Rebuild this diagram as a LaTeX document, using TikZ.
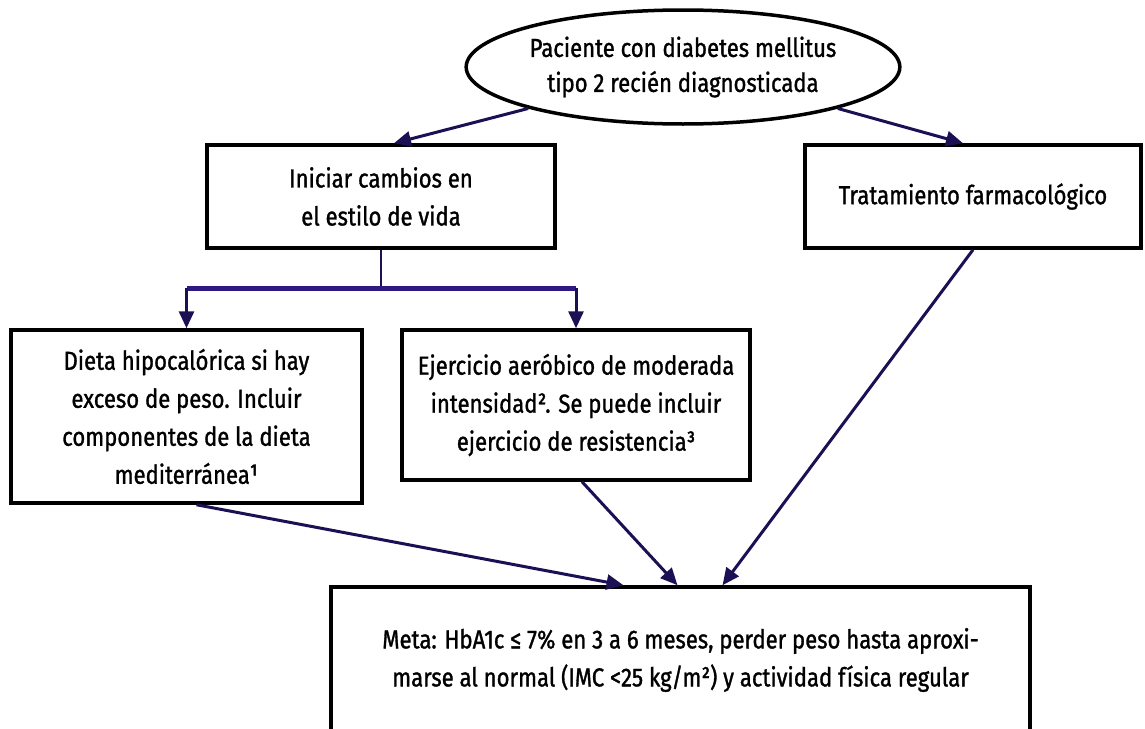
\documentclass[tikz,border=0pt]{standalone}
\usepackage{fontspec}
\setmainfont{Fira Sans}[FakeStretch=0.85,FakeBold=1.2]
\usetikzlibrary{arrows.meta,shapes.geometric,calc}
\definecolor{arrowcol}{RGB}{28,16,85}
\definecolor{barcol}{RGB}{48,24,130}
\begin{document}
\begin{tikzpicture}[x=1pt,y=-1pt,
  box/.style={draw=black, line width=3.5pt, fill=white, align=center, inner sep=0pt,
    font=\fontsize{26}{38}\selectfont},
  ell/.style={draw=black, line width=3.5pt, fill=white, ellipse, align=center, inner sep=0pt,
    font=\fontsize{26}{35}\selectfont},
  arr/.style={draw=arrowcol, line width=3pt, -{Triangle[length=17pt,width=15pt]}},
  thinline/.style={draw=arrowcol, line width=2pt},
  barline/.style={draw=barcol, line width=5pt}]
\clip (0,0) rectangle (1145,728);
\fill[white] (0,0) rectangle (1145,728);

\node[ell, minimum width=374pt, minimum height=114pt] (p) at (683,67)
  {Paciente con diabetes mellitus\\tipo 2 recién diagnosticada};
\node[box, minimum width=348pt, minimum height=103pt] (b1) at (381,196.5)
  {Iniciar cambios en\\el estilo de vida};
\node[box, minimum width=336pt, minimum height=103pt] (b2) at (973,196.5)
  {Tratamiento farmacológico};
\node[box, minimum width=351pt, minimum height=173pt] (b3) at (186.5,416.5)
  {Dieta hipocalórica si hay\\exceso de peso. Incluir\\componentes de la dieta\\mediterránea¹};
\node[box, minimum width=348pt, minimum height=150pt] (b4) at (576,405)
  {Ejercicio aeróbico de moderada\\intensidad². Se puede incluir\\ejercicio de resistencia³};
\node[box, minimum width=699pt, minimum height=146pt] (m) at (680.5,660)
  {Meta: HbA1c ≤ 7\% en 3 a 6 meses, perder peso hasta aproxi-\\marse al normal (IMC <25 kg/m²) y actividad física regular};

\coordinate (j) at (381,288);
\draw[arr] (p.195) -- ([xshift=13pt]b1.north);
\draw[arr] (p.345) -- ([xshift=-10pt]b2.north);
\draw[thinline] (b1.south) -- (j);
\draw[barline] (b3.north |- j) -- (b4.north |- j);
\draw[arr] (b3.north |- j) -- (b3.north);
\draw[arr] (b4.north |- j) -- (b4.north);
\draw[arr] ([xshift=10pt]b3.south) -- ([xshift=-57pt]m.north);
\draw[arr] ([xshift=6pt]b4.south) -- ([xshift=-3pt]m.north);
\draw[arr] (b2.south) -- ([xshift=42pt]m.north);
\end{tikzpicture}
\end{document}
